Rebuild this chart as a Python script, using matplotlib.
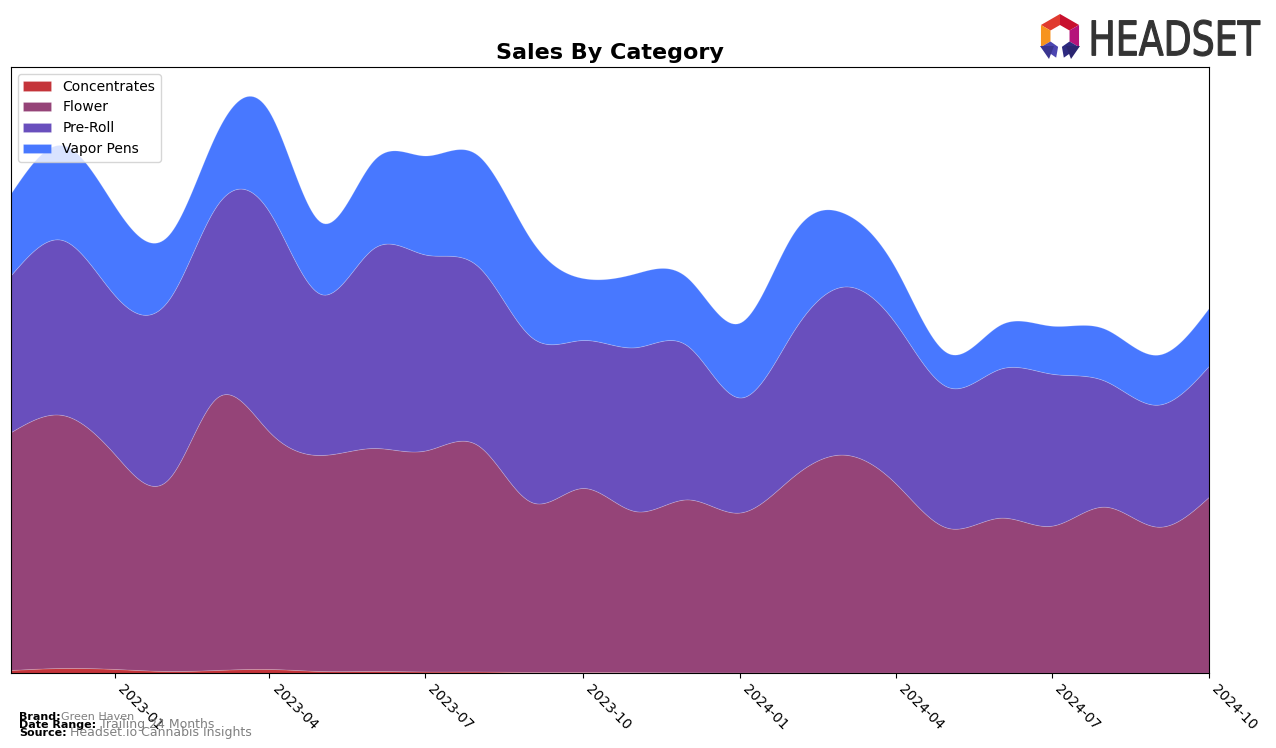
import matplotlib.pyplot as plt
import matplotlib.dates as mdates
import numpy as np
import pandas as pd
from matplotlib.patches import Polygon, PathPatch
from matplotlib.textpath import TextPath
from matplotlib.font_manager import FontProperties
from matplotlib.transforms import Affine2D

# monthly sales (arbitrary units)
months = pd.date_range("2022-11-01", "2024-10-01", freq="MS")
concentrates = [3, 5, 4, 2, 3, 4, 2, 2, 1.5, 1.5, 1, 1, 0.8, 0.6, 0.5, 0.5, 0.4, 0.4, 0.3, 0.3, 0.3, 0.3, 0.3, 0.3]
flower = [238, 253, 214, 192, 272, 237, 216, 223, 221, 226, 170, 184, 161, 173, 160, 196, 218, 189, 145, 155, 147, 166, 146, 176]
pre_roll = [157, 175, 159, 179, 192, 220, 161, 200, 196, 179, 165, 148, 164, 154, 115, 145, 168, 160, 141, 149, 152, 126, 122, 131]
vapor_pens = [82, 95, 89, 65, 73, 100, 72, 88, 99, 111, 97, 62, 74, 68, 75, 98, 74, 55, 34, 44, 48, 52, 50, 58]

labels = ["Concentrates", "Flower", "Pre-Roll", "Vapor Pens"]
colors = ["#c4343a", "#954478", "#694fbd", "#4878ff"]


def natural_spline(x, y, xs):
    # plain natural cubic spline, only used to smooth the drawn curve
    x = np.asarray(x, float)
    y = np.asarray(y, float)
    n = len(x)
    h = np.diff(x)
    A = np.zeros((n, n))
    b = np.zeros(n)
    A[0, 0] = 1
    A[-1, -1] = 1
    for i in range(1, n - 1):
        A[i, i - 1] = h[i - 1]
        A[i, i] = 2 * (h[i - 1] + h[i])
        A[i, i + 1] = h[i]
        b[i] = 6 * ((y[i + 1] - y[i]) / h[i] - (y[i] - y[i - 1]) / h[i - 1])
    M = np.linalg.solve(A, b)
    idx = np.clip(np.searchsorted(x, xs) - 1, 0, n - 2)
    x0, x1 = x[idx], x[idx + 1]
    hh = x1 - x0
    t0 = x1 - xs
    t1 = xs - x0
    return (M[idx] * t0**3 / (6 * hh) + M[idx + 1] * t1**3 / (6 * hh)
            + (y[idx] / hh - M[idx] * hh / 6) * t0
            + (y[idx + 1] / hh - M[idx + 1] * hh / 6) * t1)


xnum = mdates.date2num(months)
xs = np.linspace(xnum[0], xnum[-1], 600)
smooth = [np.clip(natural_spline(xnum, s, xs), 0, None)
          for s in [concentrates, flower, pre_roll, vapor_pens]]

fig = plt.figure(figsize=(12.76, 7.48), dpi=100)
ax = fig.add_axes([0.0086, 0.1003, 0.9389, 0.8101])

polys = ax.stackplot(mdates.num2date(xs), *smooth, labels=labels, colors=colors)
for p in polys:
    p.set_edgecolor((1, 1, 1, 0.2))
    p.set_linewidth(0.6)

ax.set_xlim(months[0], months[-1])
ax.set_ylim(0, 606)
ax.set_yticks([])
ax.xaxis.set_major_locator(mdates.MonthLocator(bymonth=[1, 4, 7, 10]))
ax.xaxis.set_major_formatter(mdates.DateFormatter("%Y-%m"))
plt.setp(ax.get_xticklabels(), rotation=-45, ha="left", fontsize=10)
ax.set_title("Sales By Category", fontsize=16, fontweight="bold")
ax.legend(loc="upper left", fontsize=10)

# footer
fig.text(0.0149, 0.0375, "Brand:", fontsize=8, fontweight="bold")
fig.text(0.048, 0.0375, "Green Haven", fontsize=8, color="gray")
fig.text(0.0149, 0.0268, "Date Range:", fontsize=8, fontweight="bold")
fig.text(0.078, 0.0268, "Trailing 24 Months", fontsize=9, color="gray")
fig.text(0.0149, 0.0161, "Source:", fontsize=8, fontweight="bold")
fig.text(0.055, 0.0161, "Headset.io Cannabis Insights", fontsize=9, color="gray")

# logo in pixel coordinates
lax = fig.add_axes([0, 0, 1, 1], zorder=5)
lax.set_xlim(0, 1276)
lax.set_ylim(748, 0)
lax.axis("off")

cx, cy = 1060, 36
r_out, r_in = 22, 11
segs = [(30, 90, "#c8102e"), (90, 150, "#e03a2f"), (150, 210, "#f7931e"),
        (-30, 30, "#b5137a"), (210, 260, "#4b45b0"), (280, 330, "#2e2a80")]
for a0, a1, c in segs:
    ang = np.radians([a0, a1, a1, a0])
    rr = [r_out, r_out, r_in, r_in]
    pts = [(cx + r * np.cos(a), cy - r * np.sin(a)) for r, a in zip(rr, ang)]
    lax.add_patch(Polygon(pts, closed=True, color=c, lw=0))
lax.add_patch(Polygon([(1040, 46), (1054, 46), (1049, 59)], color="#3a3590", lw=0))
lax.add_patch(Polygon([(1066, 46), (1080, 46), (1071, 59)], color="#2a2570", lw=0))

tp = TextPath((0, 0), "HEADSET", size=1,
              prop=FontProperties(family="DejaVu Sans", weight="normal"))
ext = tp.get_extents()
sx = 168 / ext.width
sy = 36 / ext.height
tr = Affine2D().translate(-ext.x0, -ext.y0).scale(sx, -sy).translate(1092, 56)
lax.add_patch(PathPatch(tr.transform_path(tp), color="#333333", lw=0.8,
                        edgecolor="#333333"))

plt.savefig("out.png", dpi=100)
